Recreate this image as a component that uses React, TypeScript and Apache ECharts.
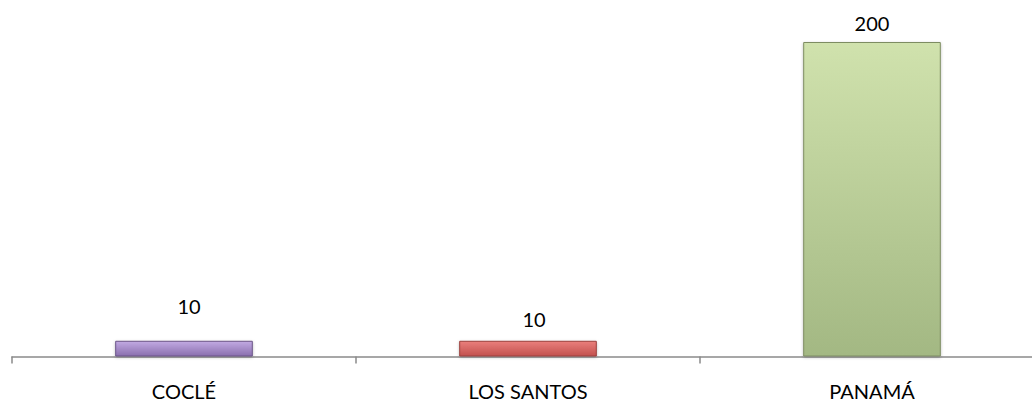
import React, { useEffect, useRef } from "react";
import * as echarts from "echarts";

const categories = ["COCLÉ", "LOS SANTOS", "PANAMÁ"];
const values = [10, 10, 200];
const topColors = ["#c2aae3", "#ea7f7c", "#d0e2ad"];
const bottomColors = ["#8a6fae", "#c2514e", "#a3b883"];
const borderColors = ["#6b5588", "#9a3f3d", "#7d8c62"];
const labelDistance = [25, 12, 9];
const labelShiftX = [5, 6, 0];

export default function App() {
  const ref = useRef<HTMLDivElement>(null);
  useEffect(() => {
    if (!ref.current) return;
    const chart = echarts.init(ref.current, undefined, { renderer: "svg" });
    const font = "Lato, 'Open Sans', sans-serif";
    chart.setOption({
      animation: false,
      grid: { left: 12, width: 1032, top: 42, bottom: 44.5, containLabel: false, outerBoundsMode: "none" },
      xAxis: {
        type: "category",
        data: categories,
        axisLine: { lineStyle: { color: "#8a8a8a", width: 1.5 } },
        axisTick: { show: true, length: 7, lineStyle: { color: "#8a8a8a", width: 1.5 } },
        axisLabel: { color: "#000", fontFamily: font, fontSize: 20, margin: 24 },
      },
      yAxis: { type: "value", min: 0, max: 200, show: false, splitLine: { show: false } },
      series: [
        {
          type: "bar",
          barWidth: "40%",
          data: values.map((v, i) => ({
            value: v,
            itemStyle: {
              color: new echarts.graphic.LinearGradient(0, 0, 0, 1, [
                { offset: 0, color: topColors[i] },
                { offset: 1, color: bottomColors[i] },
              ]),
              borderColor: borderColors[i],
              borderWidth: 1,
              shadowColor: "rgba(0,0,0,0.25)",
              shadowBlur: 3,
              shadowOffsetY: 1,
            },
            label: {
              show: true,
              position: "top",
              distance: labelDistance[i],
              offset: [labelShiftX[i], 0],
              color: "#000",
              fontFamily: font,
              fontSize: 20,
            },
          })),
        },
      ],
    });
    return () => chart.dispose();
  }, []);
  return (
    <div
      ref={ref}
      style={{ position: "fixed", left: 0, top: 0, width: 1032, height: 401, background: "#fff" }}
    />
  );
}
